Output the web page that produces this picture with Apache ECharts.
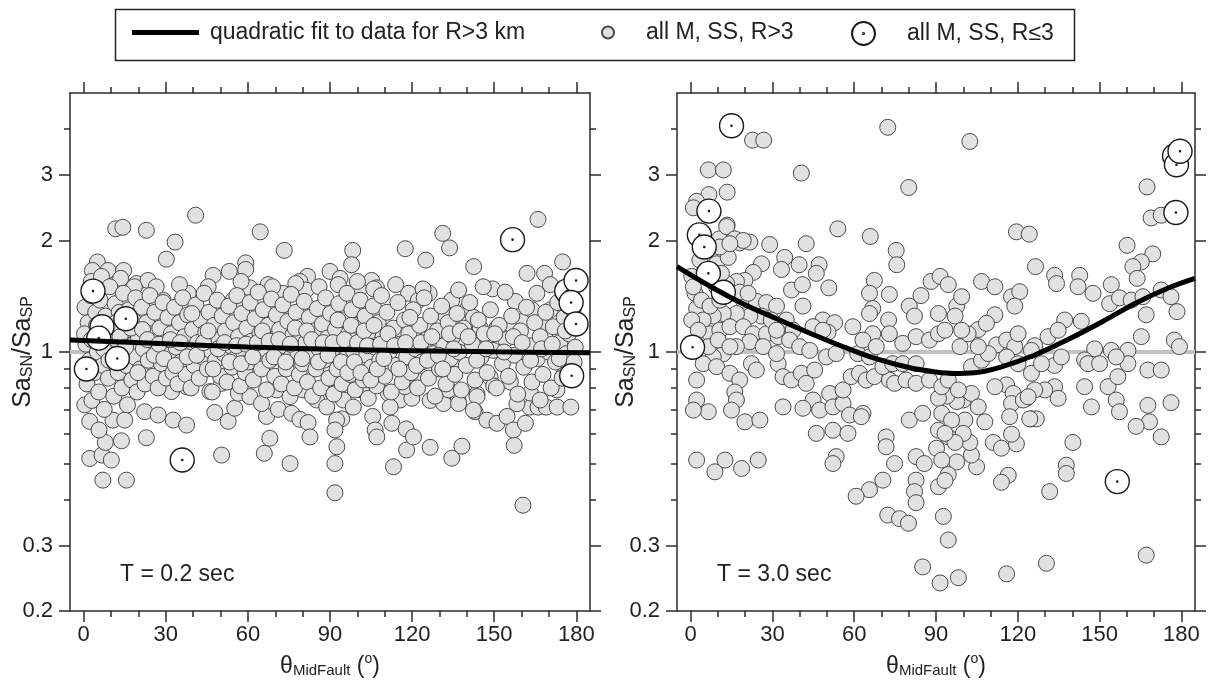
<!DOCTYPE html>
<html><head><meta charset="utf-8">
<script src="https://cdn.jsdelivr.net/npm/echarts@6/dist/echarts.min.js"></script>
<style>html,body{margin:0;padding:0;background:#fff}#c{width:1209px;height:688px}</style>
</head><body><div id="c"></div>
<script>
const xTickMajor = [0,30,60,90,120,150,180];
const xTickMinor = [10,20,40,50,70,80,100,110,130,140,160,170];
const yTickLabeled = [0.2,0.3,1,2,3];
const yTickMinor = [0.4,0.5,0.6,0.7,0.8,0.9,4];
const refLine = [[-5,1],[185,1]];

const leftFit = [[-5,1.078],[30,1.052],[60,1.031],[90,1.017],[120,1.008],[150,1.001],[185,0.996]];
const rightFit = [[-5,1.70],[7,1.507],[19,1.352],[31.5,1.23],[44,1.122],[56,1.033],[68,0.959],[80,0.908],[90,0.883],[97,0.875],[104,0.879],[114,0.912],[126,0.98],[138,1.077],[151,1.207],[163,1.352],[175,1.486],[185,1.58]];

const leftNear = [[3.4,1.46],[15.4,1.23],[6.7,1.17],[5.5,1.09],[12.3,0.96],[1,0.9],[36,0.511],[156.7,2.01],[176.5,1.46],[179.9,1.56],[178.1,1.36],[179.9,1.19],[178.3,0.863]];

const leftFar = [
[40.9,2.34],[11.7,2.15],[14.3,2.17],[22.9,2.13],[33.4,1.98],[30.2,1.78],[64.5,2.11],[73.3,1.88],
[5,1.75],[3.2,1.66],[8.9,1.66],[14.6,1.66],[47.3,1.61],[53.2,1.65],[59.2,1.74],[59.2,1.67],
[12,1.53],[19.3,1.53],[23.5,1.56],[81.8,1.6],[79,1.55],[81.2,1.47],[67.4,1.52],[60.7,1.49],[72.9,1.44],[38.2,1.44],[29,1.38],[54.6,1.38],[57,1.35],
[166,2.28],[131.2,2.09],[133.7,1.91],[98.3,1.88],[97.9,1.72],[117.5,1.9],[125,1.77],[142.5,1.7],[149.4,1.48],[157.7,1.37],[175,1.75],[162,1.63],[168.4,1.63],
[160.5,0.386],[91.8,0.417],[113.2,0.49],[118,0.544],[126.6,0.553],[134.5,0.517],[138.2,0.557],[157.3,0.56],[91.8,0.5],
[7,0.451],[15.6,0.451],[2.2,0.516],[6.7,0.527],[10.1,0.511],[50.4,0.527],[66,0.533],[75.4,0.5],[7.9,0.57],[13.8,0.576],[22.9,0.587],[68,0.585],
[0.4,0.72],[2.2,0.65],[5.6,0.616],[10.7,0.655],[15,0.655],[22.3,0.69],[27.2,0.676],[32.7,0.655],[37.6,0.635],
[47.9,0.687],[52.8,0.65],[55.2,0.705],[66.8,0.67],[71.1,0.70],[76,0.683],[79,0.658],[82,0.645],[82.7,0.59],
[163,0.71],[166,0.71],[169,0.71],[173,0.71],[178,0.71],[126.6,0.74],[131.4,0.74],[136.8,0.74],[143.7,0.77],[143,0.69],[147.3,0.655],[151,0.642],[154.7,0.67],[157,0.616],[161.4,0.642],[105.6,0.67],[106.5,0.616],[107.1,0.59],[112.6,0.642],[117.8,0.62],[120.5,0.59],[92.5,0.555],[94.3,0.66],
[90,1.65],[93.7,1.58],[101,1.49],[105.2,1.56],[107,1.49],[118.7,1.44],[122.3,1.38],[126.2,1.44],[134.5,1.38],[140,1.30],[142.4,1.24],[131.5,1.27],[144.9,1.16],[151,1.16],[147.3,1.1],[156.5,1.18],[160.7,1.21],[163.8,1.30],[165.6,1.44],[168,1.2],[170.5,1.30],[174.1,1.12],[175.4,1.01],
[148.5,0.855],[149.8,0.81],[155.9,0.83],[159.5,0.76],[158.3,0.725],[163.2,0.775],[166.8,0.742],[172.9,0.79],[175.4,0.866],
[131.5,0.726],[137,0.726],[133.3,0.79],[143.7,0.758],[142.4,0.697],
[111.3,0.774],[115.6,0.742],[119.9,0.75],[112,0.71],[117.4,0.806],[121.7,0.84],[118,0.858],[137.6,0.936],
[91.2,0.774],[94.9,0.742],[98.5,0.71],[101.6,0.79],[92.4,0.655],[91.8,0.616],
[27.2,0.832],[32.1,0.782],[37.6,0.806],[46.1,0.782],[50.4,0.823],[56.5,0.774],[60.7,0.758],[65,0.726],[70.5,0.79],[75.4,0.758],[80.2,0.79],[85.1,0.742],[88.8,0.711],
[2.8,1.55],[6.5,1.6],[13.5,1.58],[18.5,1.5],[26.5,1.5],[35,1.52],[45.5,1.5],[57.5,1.55],[69,1.5],[77.5,1.53],[86,1.5],[93,1.52],[100,1.55],[106,1.48],[114,1.52],[124,1.48],[137,1.47],[146,1.5],[154,1.45],[170.5,1.52],[175.5,1.47],
[0.5,1.32],[0.8,1.05],[1.2,0.82],[1.6,1.2],[2.1,0.95],[2.6,1.42],[3.0,0.74],[3.5,1.12],[4.0,0.88],[4.4,1.28],[5.0,1.0],[5.5,0.78],[6.0,1.38],[6.4,1.15],[7.0,0.92],[7.5,0.7],[8.0,1.25],[8.4,1.05],[9.0,0.85],[9.5,1.5],[10.0,1.18],[10.4,0.96],
[11.0,0.76],[11.5,1.35],[12.0,1.08],[12.6,0.88],[13.0,1.28],[13.6,0.99],[14.0,0.8],[14.5,1.44],[15.0,1.14],[15.6,0.92],[16.0,0.72],[16.5,1.3],[17.0,1.04],[17.6,0.84],[18.0,1.22],[18.6,0.97],[19.0,1.4],[19.5,0.78],[20.0,1.1],
[20.6,0.9],[21.2,1.32],[21.8,1.02],[22.4,0.82],[23.0,1.2],[23.6,0.95],[24.2,1.42],[24.8,1.12],[25.4,0.86],[26.0,1.28],[26.6,1.0],[27.2,0.8],[27.8,1.16],[28.4,0.93],[29.0,1.36],[29.6,1.06],[30.2,0.85],
[30.8,1.24],[31.4,0.98],[32.0,1.12],[32.6,0.88],[33.2,1.32],[33.8,1.03],[34.4,0.82],[35.0,1.2],[35.6,0.94],[36.2,1.4],[36.8,1.1],[37.4,0.87],[38.0,1.26],[38.6,1.0],[39.2,0.8],[39.8,1.15],
[40.4,0.92],[41.0,1.34],[41.6,1.06],[42.2,0.85],[42.8,1.22],[43.4,0.97],[44.0,1.44],[44.6,1.13],[45.2,0.9],[45.8,1.28],[46.4,1.01],[47.0,0.78],[47.6,1.18],[48.2,0.95],[48.8,1.38],[49.4,1.08],[50.0,0.86],
[50.6,1.25],[51.2,0.99],[51.8,1.14],[52.4,0.83],[53.0,1.33],[53.6,1.04],[54.2,0.91],[54.8,1.2],[55.4,0.96],[56.0,1.42],[56.6,1.1],[57.2,0.81],[57.8,1.27],[58.4,1.0],[59.0,0.88],[59.6,1.16],
[60.2,0.94],[60.8,1.36],[61.4,1.07],[62.0,0.84],[62.6,1.23],[63.2,0.98],[63.8,1.45],[64.4,1.12],[65.0,0.9],[65.6,1.3],[66.2,1.02],[66.8,0.79],[67.4,1.18],[68.0,0.95],[68.6,1.39],[69.2,1.08],[69.8,0.86],
[70.4,1.26],[71.0,0.99],[71.6,1.15],[72.2,0.82],[72.8,1.34],[73.4,1.04],[74.0,0.9],[74.6,1.21],[75.2,0.96],[75.8,1.43],[76.4,1.11],[77.0,0.8],[77.6,1.28],[78.2,1.0],[78.8,0.87],[79.4,1.17],
[80.0,0.93],[80.6,1.37],[81.2,1.06],[81.8,0.83],[82.4,1.24],[83.0,0.98],[83.6,0.76],[84.2,1.14],[84.8,0.9],[85.4,1.31],[86.0,1.02],[86.6,0.8],[87.2,1.19],[87.8,0.95],[88.4,1.4],[89.0,1.09],[89.6,0.85],
[90.2,1.27],[90.8,0.99],[91.4,0.77],[92.0,1.15],[92.6,0.9],[93.2,1.35],[93.8,1.05],[94.4,0.82],[95.0,1.22],[95.6,0.96],[96.2,1.44],[96.8,1.12],[97.4,0.87],[98.0,1.3],[98.6,1.01],[99.2,0.79],[99.8,1.18],
[100.4,0.93],[101.0,1.38],[101.6,1.07],[102.2,0.84],[102.8,1.25],[103.4,0.98],[104.0,0.75],[104.6,1.14],[105.2,0.91],[105.8,1.33],[106.4,1.03],[107.0,0.81],[107.6,1.2],[108.2,0.95],[108.8,1.42],[109.4,1.1],[110.0,0.86],
[110.8,1.28],[111.6,1.0],[112.4,0.78],[113.2,1.16],[114.0,0.92],[114.8,1.36],[115.6,1.05],[116.4,0.83],[117.2,1.22],[118.0,0.97],[118.8,1.12],[119.6,0.88],
[120.4,1.3],[121.2,1.02],[122.0,0.8],[122.8,1.18],[123.6,0.94],[124.4,1.4],[125.2,1.08],[126.0,0.85],[126.8,1.25],[127.6,0.99],[128.4,0.76],[129.2,1.14],
[130.0,0.9],[130.8,1.33],[131.6,1.04],[132.4,0.82],[133.2,1.2],[134.0,0.96],[134.8,1.1],[135.6,0.87],[136.4,1.27],[137.2,1.0],[138.0,0.79],[138.8,1.16],
[139.8,0.92],[141.0,1.36],[142.0,1.05],[143.0,0.84],[144.2,1.22],[145.2,0.97],[146.4,1.12],[147.4,0.88],[148.6,1.3],[149.6,1.01],
[150.8,0.8],[151.8,1.18],[153.0,0.93],[154.2,1.08],[155.2,0.86],[156.4,1.25],[157.4,0.98],[158.6,0.77],[159.6,1.14],
[160.8,0.91],[161.8,1.32],[162.8,1.04],[163.8,0.83],[164.8,1.2],[165.8,0.96],[166.8,1.1],[167.8,0.87],[168.8,1.28],[169.8,1.0],
[170.8,0.8],[171.6,1.17],[172.4,0.94],[173.2,1.36],[174.0,1.06],[174.8,0.85],[175.6,1.24],[176.4,0.99],[177.2,1.12],[178.0,0.89],[178.8,1.3],[179.6,1.03],
[0.3,1.12],[2.8,1.08],[4.7,1.18],[7.3,1.02],[9.2,0.95],[11.8,1.2],[13.3,1.1],[15.3,1.03],[17.3,1.16],[19.8,0.88],[21.5,1.15],[23.3,1.08],[25.8,0.98],[27.5,1.05],[29.3,0.96],[31.7,1.08],[33.5,0.92],[35.3,1.06],[37.8,0.97],[39.5,1.27],[41.3,0.98],[43.8,1.06],[45.5,1.14],[47.3,0.9],[49.1,1.02],[51.5,1.06],[53.3,0.94],[55.8,1.04],[57.5,0.93],[59.3,1.05],[61.8,0.97],[63.5,1.06],[65.3,1.14],[67.8,1.07],[69.5,0.97],[71.3,1.08],[73.8,0.94],[75.5,1.05],[77.3,1.16],[79.8,0.96],[81.5,1.14],[83.3,1.08],[85.8,0.94],[87.5,1.06],[89.3,0.98],[91.1,1.06],[92.9,1.22],[94.1,0.94],[95.3,1.08],[96.5,0.88],[97.7,1.18],[98.9,0.94],[100.1,1.06],[101.3,0.88],[102.5,1.14],[103.7,1.04],[104.9,0.84],[106.1,1.18],[107.3,0.9],[108.5,1.05],[109.7,0.96],[111.2,1.12],[113.6,1.04],[115.2,0.9],[117.6,1.06],[119.2,1.24],[121.6,0.92],[123.2,1.06],[125.6,0.95],[127.2,1.1],[129.6,0.98],[131.2,0.9],[133.6,1.12],[135.2,1.02],[137.6,1.14],[140.5,1.1],[143.6,0.95],[147.0,1.02],[150.2,1.12],[153.6,1.0],[157.0,1.1],[160.2,1.06],[163.3,0.95],[167.3,1.02],[171.2,1.05],[173.8,0.96],[176.0,1.14],[179.2,0.94]
];

const rightNear = [[15,4.08],[6.7,2.4],[3.2,2.07],[5,1.92],[6.5,1.63],[12,1.45],[0.7,1.03],[177.5,3.38],[178.2,3.2],[179.5,3.48],[178,2.38],[156.5,0.447]];

const rightFar = [
[22.7,3.73],[26.8,3.73],[6.5,3.1],[12,3.1],[40.6,3.04],[72.3,4.04],[80,2.78],[13.4,2.7],[6.7,2.66],[2.2,2.55],[1,2.45],
[10.5,2.02],[13.4,2.2],[18,1.97],[21.7,1.98],[54,2.15],[65.9,2.05],[42.4,1.96],[29,1.95],[75.4,1.88],[75.6,1.72],
[34.5,1.8],[26,1.73],[33.3,1.67],[39.8,1.72],[47.1,1.72],[46.1,1.63],[23,1.64],[19.9,1.56],[16.8,1.55],[13.2,1.53],
[37,1.47],[41,1.52],[41.2,1.33],[50.7,1.49],[67.4,1.56],[65.6,1.44],[66.8,1.31],[65.6,1.27],[72.9,1.43],[72.6,1.22],[80.2,1.33],[82.1,1.25],[84.5,1.42],[88.2,1.55],
[48.5,1.22],[52.8,1.2],[50.4,1.13],[59.5,1.17],[66.8,1.12],[0.4,1.6],[1.6,1.44],[2.2,1.31],
[19.3,1.38],[24.1,1.37],[27.8,1.36],[31.5,1.33],[35.1,1.22],[37.6,1.145],[26,1.25],[21.7,1.25],[16.8,1.27],[12,1.27],[8.3,1.25],[4.6,1.22],[4,1.12],[7.1,1.12],[10.7,1.145],[14.4,1.17],[19.3,1.17],[22.9,1.12],[27.8,1.12],[32.1,1.10],[36.3,1.077],[40,1.034],[43.7,1.01],[21.7,1.066],[16.8,1.034],[12,0.99],[8.3,0.97],[4.6,0.93],[9.5,0.913],[14.4,0.876],[18,0.84],[16.2,0.78],[16.8,0.742],[15,0.697],
[22.3,0.93],[24.1,0.894],[32.1,0.93],[33.9,0.858],[37,0.84],[40.6,0.876],[42.4,0.823],[45.5,0.894],[44.9,0.742],[47.3,0.697],[51,0.773],[52.2,0.711],[55.9,0.726],[58.3,0.676],[63.2,0.683],[55.9,0.79],[58.9,0.858],[61.9,0.876],[64.4,0.84],[67.4,0.858],[72.9,0.84],[74.8,0.823],[79,0.84],[82.7,0.823],[87.6,0.84],
[2.2,0.84],[2.2,0.742],[6.5,0.69],[1,0.697],[19.9,0.648],[25.4,0.655],[33.9,0.711],[41.2,0.705],[46.1,0.603],[52.2,0.615],[57.7,0.603],[62.6,0.669],[71.7,0.59],[71.7,0.555],[80.2,0.655],[85.1,0.683],[82.7,0.522],[85.7,0.50],[82.7,0.451],[82.1,0.42],[82.7,0.392],[74.8,0.50],[70.5,0.451],[65.6,0.425],[60.7,0.408],[53.4,0.522],[52.2,0.50],[2.2,0.511],[8.9,0.475],[12.6,0.511],[18.7,0.485],[24.8,0.511],[72.3,0.363],[76.6,0.355],[79.9,0.345],[85.1,0.263],
[1,1.5],[4,1.38],[7.1,1.33],[10.7,1.38],[9.5,1.5],[13.8,1.44],[7.1,1.8],[9.5,1.73],[13.8,1.8],[11.3,1.63],[18,1.45],[21.1,1.44],[0.4,1.22],[2.8,1.145],[6.5,1.034],[10.1,1.077],[14.4,1.034],[13.2,2.18],[10.7,1.92],[16.2,2.02],[19.3,2.0],[14.4,1.96],[3.4,1.77],
[29.6,1.22],[31.5,1.145],[44.9,1.17],[48.5,1.145],[26.6,1.034],[31.5,0.99],[49.8,0.97],[53.4,0.99],
[61.3,0.99],[65.6,0.97],[70.5,0.913],[74.1,0.93],[77.8,0.93],[82.7,0.93],[63.2,1.077],[68.1,1.034],[72.9,1.12],[77.8,1.055],[82.7,1.10],[87.6,1.077],
[102.4,3.70],[167.4,2.79],[168.9,2.30],[172.6,2.34],[119.5,2.11],[124.2,2.08],[160.1,1.94],[169.5,1.84],[165.3,1.75],[162.2,1.70],[163.8,1.58],[126.5,1.70],
[106.7,1.55],[111.6,1.50],[133.5,1.61],[134.2,1.53],[142.7,1.61],[142.1,1.50],[147.6,1.44],
[154.3,1.52],[153.7,1.35],[157.3,1.40],[161.6,1.38],[165.9,1.41],[172.6,1.47],[176.2,1.41],[178.4,1.285],
[117.7,1.41],[120.7,1.455],[118.9,1.33],[111.6,1.26],[105.5,1.15],[108.5,1.195],
[91.5,1.6],[94.5,1.52],[97.6,1.33],[99.4,1.41],[97,1.25],[90.9,1.27],[90.9,1.12],[93.3,1.145],
[137.2,1.22],[143.3,1.21],[131.1,1.10],[134.8,1.145],[126.2,1.04],[125,1.01],
[98.8,1.034],[112.2,1.045],[115.9,1.077],[118.9,1.034],[120.1,1.12],
[148.2,1.02],[154.3,1.01],[160.4,1.01],[165.3,1.10],[167.1,1.26],[177.4,1.077],[179.3,1.034],
[160.4,0.93],[156.1,0.97],[167.7,0.894],[172.6,0.894],[144.5,0.952],[145.7,0.93],[150,0.93],[133.5,0.92],[136,0.97],
[153.1,0.806],[156.7,0.858],[156.1,0.742],[157.3,0.69],[144.5,0.806],[147,0.711],
[133.5,0.806],[134.8,0.75],[129.9,0.79],[126.2,0.79],[123.2,0.75],[125,0.66],[126.8,0.66],
[167.7,0.718],[168.3,0.648],[163.4,0.63],[176.2,0.73],[172.6,0.59],[140.2,0.57],[137.8,0.495],[137.8,0.47],[131.7,0.42],[116.5,0.465],[114,0.445],
[111,0.57],[114,0.55],[119.5,0.565],[117.7,0.60],[104.9,0.49],[103,0.527],[97.6,0.505],[102.4,0.57],
[124.4,0.66],[107.9,0.648],[100.6,0.655],[100,0.603],[94.5,0.59],[97,0.57],
[90.2,0.55],[92.1,0.511],[94.5,0.467],[90.9,0.433],[93.3,0.45],[92.7,0.36],[94.5,0.311],[115.9,0.252],[130.5,0.269],[98.2,0.246],[91.5,0.238],[167.1,0.283],
[100,0.742],[103,0.773],[97.6,0.735],[93.9,0.76],[105.5,0.711],
[115.9,0.815],[118.3,0.773],[117.7,0.726],[117,0.669],[122,0.742],[123.8,0.757],
[90.9,0.75],[92.1,0.683],[90.9,0.615],[95.7,0.655],[93.3,0.603],
[92.1,0.806],[94.5,0.84],[98.2,0.79],[103,0.913],[106.7,0.95],[109.2,0.99],[105.5,1.034],[101.8,1.12],[99.4,1.145],[115.9,0.97],[120.1,0.93],[125,0.876],[128.7,0.93],[111.6,0.806]
];

const FONT = 'Liberation Sans, Arial, Helvetica, sans-serif';
const AX = '#2b2b2b';
const TXT = '#222';
const FIT_NAME = 'quadratic fit to data for R>3 km';
const FAR_NAME = 'all M, SS, R>3';
const NEAR_NAME = 'all M, SS, R\u22643';
const NEAR_SYMBOL = 'path://M0,-12A12,12,0,1,1,0,12A12,12,0,1,1,0,-12ZM0,-0.6A0.6,0.6,0,1,1,0,0.6A0.6,0.6,0,1,1,0,-0.6Z';

function tickStyle(len){ return {show:true, inside:false, length:len, lineStyle:{color:AX, width:1.5}}; }

function xAxesFor(g){
  const base = {type:'value', gridIndex:g, min:-5, max:185, splitLine:{show:false}, minorTick:{show:false}};
  return [
    Object.assign({}, base, {position:'bottom', axisLine:{show:true,onZero:false,lineStyle:{color:AX,width:1.5}},
      axisTick:Object.assign(tickStyle(11),{customValues:xTickMajor}),
      axisLabel:{customValues:xTickMajor, fontSize:22, color:TXT, fontFamily:FONT, margin:13},
      name:'{t|\u03b8}{s|MidFault}{t| (}{p|o}{t|)}', nameLocation:'middle', nameGap:41, nameMoveOverlap:false,
      nameTextStyle:{fontFamily:FONT, color:TXT, rich:{
        t:{fontSize:23, fontFamily:FONT, color:TXT, lineHeight:26, verticalAlign:'bottom'},
        s:{fontSize:15, fontFamily:FONT, color:TXT, lineHeight:10, verticalAlign:'bottom'},
        p:{fontSize:14, fontFamily:FONT, color:TXT, lineHeight:14, verticalAlign:'top'}}}}),
    Object.assign({}, base, {position:'bottom', axisLine:{show:false,onZero:false},
      axisTick:Object.assign(tickStyle(6),{customValues:xTickMinor}), axisLabel:{show:false}}),
    Object.assign({}, base, {position:'top', axisLine:{show:true,onZero:false,lineStyle:{color:AX,width:1.5}},
      axisTick:Object.assign(tickStyle(11),{customValues:xTickMajor}), axisLabel:{show:false}}),
    Object.assign({}, base, {position:'top', axisLine:{show:false,onZero:false},
      axisTick:Object.assign(tickStyle(6),{customValues:xTickMinor}), axisLabel:{show:false}})
  ];
}
function yAxesFor(g, gap){
  const base = {type:'log', logBase:10, gridIndex:g, min:0.2, max:5, splitLine:{show:false}, minorTick:{show:false}};
  return [
    Object.assign({}, base, {position:'left', axisLine:{show:true,onZero:false,lineStyle:{color:AX,width:1.5}},
      axisTick:Object.assign(tickStyle(11),{customValues:yTickLabeled}),
      axisLabel:{customValues:yTickLabeled, fontSize:22, color:TXT, fontFamily:FONT, margin:17,
        formatter:function(v){return String(+(+v).toFixed(3));}},
      name:'{a|Sa}{b|SN}{a|/Sa}{b|SP}', nameLocation:'middle', nameRotate:90, nameGap:gap, nameMoveOverlap:false,
      nameTextStyle:{fontFamily:FONT, color:TXT, rich:{
        a:{fontSize:25, fontFamily:FONT, color:TXT, lineHeight:28, verticalAlign:'bottom'},
        b:{fontSize:16, fontFamily:FONT, color:TXT, lineHeight:10, verticalAlign:'bottom'}}}}),
    Object.assign({}, base, {position:'left', axisLine:{show:false,onZero:false},
      axisTick:Object.assign(tickStyle(6),{customValues:yTickMinor}), axisLabel:{show:false}}),
    Object.assign({}, base, {position:'right', axisLine:{show:true,onZero:false,lineStyle:{color:AX,width:1.5}},
      axisTick:Object.assign(tickStyle(11),{customValues:yTickLabeled}), axisLabel:{show:false}}),
    Object.assign({}, base, {position:'right', axisLine:{show:false,onZero:false},
      axisTick:Object.assign(tickStyle(6),{customValues:yTickMinor}), axisLabel:{show:false}})
  ];
}

function panelSeries(xi, yi, far, near, fit){
  return [
    {type:'line', xAxisIndex:xi, yAxisIndex:yi, data:refLine, symbol:'none', silent:true, z:1,
      lineStyle:{color:'#c2c2c2', width:4}},
    {type:'scatter', name:FAR_NAME, xAxisIndex:xi, yAxisIndex:yi, data:far, symbol:'circle', symbolSize:16, z:2,
      itemStyle:{color:'#e1e1e1', borderColor:'#4a4a4a', borderWidth:1, opacity:1}},
    {type:'scatter', name:NEAR_NAME, xAxisIndex:xi, yAxisIndex:yi, data:near, symbol:NEAR_SYMBOL, symbolSize:24, z:3,
      itemStyle:{color:'#ffffff', borderColor:'#1a1a1a', borderWidth:1.4, opacity:1}},
    {type:'line', name:FIT_NAME, xAxisIndex:xi, yAxisIndex:yi, data:fit, smooth:0.4, symbol:'none', z:4,
      lineStyle:{color:'#000', width:5}}
  ];
}

const LEG_TXT = {fontSize:23, color:TXT, fontFamily:FONT};
const chart = echarts.init(document.getElementById('c'), null, {renderer:'canvas'});
chart.setOption({
  animation:false,
  backgroundColor:'#fff',
  textStyle:{fontFamily:FONT},
  grid:[{left:70, top:93, width:520, height:518, containLabel:false, outerBoundsMode:'none'},
        {left:677, top:93, width:518, height:518, containLabel:false, outerBoundsMode:'none'}],
  xAxis: xAxesFor(0).concat(xAxesFor(1)),
  yAxis: yAxesFor(0, 34).concat(yAxesFor(1, 38)),
  title:[
    {text:'T = 0.2 sec', left:115, top:558, padding:5, textStyle:{fontSize:23, fontWeight:'normal', color:TXT, fontFamily:FONT}},
    {text:'T = 3.0 sec', left:712, top:558, padding:5, textStyle:{fontSize:23, fontWeight:'normal', color:TXT, fontFamily:FONT}}
  ],
  legend:[
    {left:132, top:21, padding:0, selectedMode:false, itemWidth:67, itemHeight:5,
      data:[{name:FIT_NAME, icon:'rect', itemStyle:{color:'#000', borderWidth:0}}],
      textStyle:Object.assign({padding:[0,0,0,6]}, LEG_TXT)},
    {left:601, top:21, padding:0, selectedMode:false, itemWidth:12, itemHeight:12,
      data:[FAR_NAME], textStyle:Object.assign({padding:[0,0,0,27]}, LEG_TXT)},
    {left:851, top:21, padding:0, selectedMode:false, itemWidth:23, itemHeight:23,
      data:[NEAR_NAME], textStyle:Object.assign({padding:[0,0,0,27]}, LEG_TXT)}
  ],
  graphic:[{type:'rect', left:113, top:7, silent:true, z:0,
    shape:{width:959, height:51}, style:{fill:'none', stroke:'#222', lineWidth:1.5}}],
  series: panelSeries(0,0,leftFar,leftNear,leftFit).concat(panelSeries(4,4,rightFar,rightNear,rightFit))
});
</script></body></html>
